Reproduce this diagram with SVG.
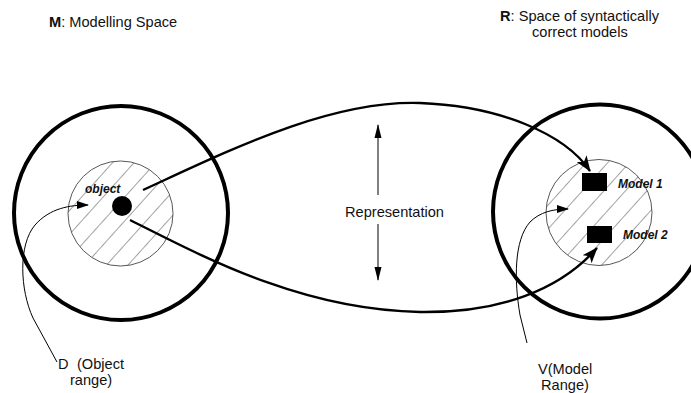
<svg xmlns="http://www.w3.org/2000/svg" width="691" height="393" viewBox="0 0 691 393">
<style>
text{font-family:"Liberation Sans",Arial,sans-serif;font-size:14.6px;fill:#111}
.big{fill:none;stroke:#000;stroke-width:4}
.inner{stroke:#444;stroke-width:0.9}
.conn{fill:none;stroke:#000;stroke-width:2.4}
.thin{fill:none;stroke:#000;stroke-width:1}
.bi{font-weight:bold;font-style:italic;font-size:12px}
</style>
<defs>
<pattern id="hatch" patternUnits="userSpaceOnUse" width="16" height="16" patternTransform="rotate(42)">
<rect width="16" height="16" fill="#fff"/>
<line x1="0" y1="0" x2="0" y2="16" stroke="#333" stroke-width="0.9"/>
</pattern>
<marker id="ah" markerUnits="userSpaceOnUse" markerWidth="16" markerHeight="12" refX="15" refY="6" orient="auto">
<path d="M0,0 L16,6 L0,12 L4,6 Z" fill="#000"/>
</marker>
<marker id="ahs" markerUnits="userSpaceOnUse" markerWidth="12" markerHeight="8" refX="11" refY="4" orient="auto">
<path d="M0,0 L12,4 L0,8 Z" fill="#000"/>
</marker>
<marker id="ahv" markerUnits="userSpaceOnUse" markerWidth="14" markerHeight="8" refX="13" refY="4" orient="auto">
<path d="M0,0.5 L14,4 L0,7.5 Z" fill="#000"/>
</marker>
</defs>
<rect width="691" height="393" fill="#fff"/>

<g id="spaceM">
<circle cx="121" cy="213" r="107" class="big"/>
<circle cx="120.5" cy="213.5" r="52.5" fill="url(#hatch)" class="inner"/>
<text x="49" y="27"><tspan font-weight="bold">M</tspan>: Modelling Space</text>
</g>

<g id="object">
<circle cx="122" cy="206" r="10" fill="#000"/>
<text x="85" y="193" class="bi" font-size="12.5px">object</text>
</g>

<g id="spaceR">
<circle cx="600" cy="211.5" r="107" class="big"/>
<circle cx="599" cy="212.5" r="53" fill="url(#hatch)" class="inner"/>
<text x="500" y="21"><tspan font-weight="bold">R</tspan>: Space of syntactically</text>
<text x="532" y="37">correct models</text>
</g>

<g id="model1">
<rect x="582" y="173" width="25" height="18" fill="#000"/>
<text x="618" y="188" class="bi">Model 1</text>
</g>

<g id="model2">
<rect x="587" y="226" width="25" height="17" fill="#000"/>
<text x="623" y="239" class="bi">Model 2</text>
</g>

<g id="labelD">
<text x="58" y="369">D</text>
<text x="77" y="369">(Object</text>
<text x="70" y="385">range)</text>
</g>

<g id="labelV">
<text x="538" y="374">V(Model</text>
<text x="541" y="390">Range)</text>
</g>

<g id="representation">
<text x="345" y="217">Representation</text>
</g>

<g id="connectors">
<path class="conn" d="M143,190 C230,150 330,100 420,103 C500,106 565,134 590,171" marker-end="url(#ah)"/>
<path class="conn" d="M130,220 C200,255 300,310 420,312 C500,313 560,290 597,248" marker-end="url(#ah)"/>
<path class="thin" d="M57,362 L33,318 C20,290 18,245 35,225 C50,208 70,205 88,205" marker-end="url(#ahs)"/>
<path class="thin" d="M527,343 L520,315 C514,280 514,240 530,222 C540,212 553,209 568,209" marker-end="url(#ahs)"/>
<line class="thin" x1="378" y1="195" x2="378" y2="125" marker-end="url(#ahv)"/>
<line class="thin" x1="378" y1="224" x2="378" y2="280" marker-end="url(#ahv)"/>
</g>
</svg>
